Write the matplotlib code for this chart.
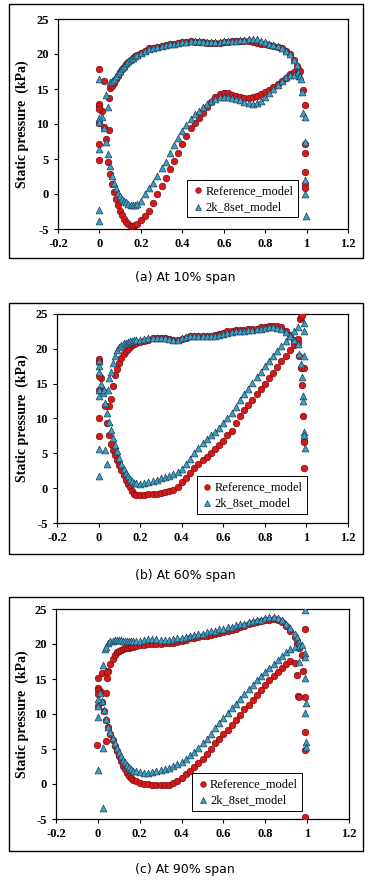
import numpy as np
import matplotlib.pyplot as plt
from matplotlib.patches import Rectangle

plt.rcParams['axes.unicode_minus'] = False

# chordwise stations used for the surface data (x/c)
x_upper = [0.05, 0.06, 0.07, 0.08, 0.09, 0.10, 0.11, 0.12, 0.13, 0.14, 0.15, 0.16, 0.17, 0.18,
           0.20, 0.22, 0.24, 0.26, 0.28, 0.30, 0.32, 0.34, 0.36, 0.38, 0.40, 0.42, 0.44, 0.46,
           0.48, 0.50, 0.52, 0.54, 0.56, 0.58, 0.60, 0.62, 0.64, 0.66, 0.68, 0.70, 0.72, 0.74,
           0.76, 0.78, 0.80, 0.82, 0.84, 0.86, 0.88, 0.90, 0.92, 0.94]
x_lower = [0.01, 0.02, 0.03, 0.04] + x_upper

# ---- (a) 10% span ----
ref_up_a = [15.2, 15.5, 15.9, 16.4, 16.9, 17.4, 17.8, 18.2, 18.6, 18.9, 19.2, 19.5, 19.7, 19.9,
            20.2, 20.5, 20.8, 20.9, 21.0, 21.1, 21.3, 21.4, 21.5, 21.6, 21.7, 21.7, 21.8, 21.7,
            21.7, 21.7, 21.6, 21.6, 21.6, 21.6, 21.7, 21.7, 21.8, 21.8, 21.8, 21.8, 21.8, 21.7,
            21.6, 21.5, 21.4, 21.3, 21.2, 21.0, 20.8, 20.5, 20.0, 19.2]
ref_lo_a = [11.8, 9.6, 7.8, 4.6, 2.9, 1.5, 0.3, -0.7, -1.6, -2.4, -3.0, -3.5, -4.0, -4.3,
            -4.5, -4.5, -4.4, -4.3, -3.7, -3.2, -2.4, -1.3, 0.0, 1.1, 2.3, 3.6, 4.7, 5.9,
            7.1, 8.3, 9.4, 10.2, 10.9, 11.6, 12.4, 13.1, 13.8, 14.3, 14.5, 14.4, 14.2, 14.0,
            13.8, 13.7, 13.7, 13.8, 14.0, 14.3, 14.6, 14.9, 15.3, 15.7, 16.1, 16.6, 17.1, 17.5]
ref_ex_x_a = [0.0, 0.02, 0.045, 0.045, 0.0, 0.0, 0.0, 0.0, 0.0, -0.003,
              0.955, 0.96, 0.965, 0.97, 0.985, 0.99, 0.99, 0.99, 0.993, 0.993, 0.993]
ref_ex_y_a = [17.9, 16.1, 13.7, 9.1, 12.9, 12.6, 12.2, 10.1, 7.1, 4.9,
              18.3, 17.9, 17.5, 17.6, 14.8, 12.7, 7.2, 5.8, 3.1, 1.4, 0.9]

k2_up_a = [16.0, 16.2, 16.5, 16.9, 17.3, 17.6, 18.0, 18.3, 18.7, 19.0, 19.3, 19.5, 19.7, 19.9,
           20.2, 20.5, 20.7, 20.8, 21.0, 21.1, 21.3, 21.4, 21.5, 21.6, 21.7, 21.7, 21.9, 21.8,
           21.8, 21.7, 21.7, 21.7, 21.7, 21.7, 21.8, 21.8, 21.9, 21.9, 22.0, 22.0, 22.1, 22.2,
           22.1, 21.9, 21.7, 21.5, 21.3, 21.1, 20.8, 20.5, 20.0, 19.2]
k2_lo_a = [11.0, 9.5, 7.5, 5.7, 4.0, 2.6, 1.6, 0.8, 0.2, -0.3, -0.7, -1.0, -1.2, -1.4,
           -1.5, -1.5, -1.5, -1.4, -1.0, 0.0, 0.8, 1.6, 2.6, 3.7, 4.6, 5.8, 7.0, 8.0,
           9.0, 9.9, 10.7, 11.4, 11.9, 12.4, 12.9, 13.3, 13.6, 13.8, 13.8, 13.8, 13.7, 13.6,
           13.4, 13.2, 13.0, 12.9, 13.0, 13.3, 13.8, 14.4, 15.0, 15.6, 16.2, 16.7, 17.0, 17.0]
k2_ex_x_a = [0.0, 0.03, 0.04, 0.0, 0.0, 0.0, 0.0, 0.0,
             0.955, 0.96, 0.965, 0.97, 0.975, 0.98, 0.985, 0.99, 0.993, 0.993, 0.993, 0.995]
k2_ex_y_a = [16.4, 14.1, 12.4, 10.8, 10.3, 6.4, -2.3, -3.8,
             18.5, 17.5, 16.9, 16.8, 16.5, 14.6, 11.6, 11.0, 7.4, 2.0, 0.0, -3.2]

# ---- (b) 60% span ----
ref_up_b = [11.8, 12.8, 14.6, 16.2, 17.1, 18.0, 18.7, 19.3, 19.7, 20.0, 20.3, 20.5, 20.7, 20.8,
            21.0, 21.1, 21.3, 21.5, 21.6, 21.6, 21.5, 21.4, 21.2, 21.2, 21.4, 21.6, 21.8, 21.9,
            21.9, 21.9, 21.9, 21.9, 22.0, 22.1, 22.3, 22.5, 22.6, 22.7, 22.7, 22.7, 22.8, 22.8,
            22.9, 23.1, 23.2, 23.3, 23.3, 23.3, 23.1, 22.6, 22.0, 21.3]
ref_lo_b = [15.8, 14.0, 11.8, 9.4, 7.7, 6.3, 5.5, 4.8, 4.1, 3.3, 2.6, 1.9, 1.2, 0.6,
            0.1, -0.4, -0.8, -1.0, -1.0, -1.0, -0.9, -0.9, -0.8, -0.7, -0.6, -0.4, -0.2, 0.2,
            0.9, 1.5, 2.2, 2.9, 3.5, 4.0, 4.5, 5.0, 5.6, 6.2, 6.7, 7.6, 8.2, 9.3,
            10.3, 11.2, 12.0, 12.7, 13.5, 14.3, 15.0, 15.8, 16.6, 17.4, 18.2, 18.9, 19.8, 20.6]
ref_ex_x_b = [0.0, 0.0, 0.0, 0.0, 0.0, 0.0,
              0.96, 0.96, 0.97, 0.975, 0.98, 0.965, 0.975, 0.99, 0.98, 0.985, 0.99, 0.99, 0.99]
ref_ex_y_b = [18.5, 18.1, 16.1, 14.1, 10.1, 7.5,
              20.8, 21.4, 24.3, 24.6, 24.8, 19.0, 17.3, 17.3, 14.8, 10.3, 6.8, 6.6, 2.9]

k2_up_b = [15.8, 16.7, 18.0, 19.0, 19.8, 20.3, 20.6, 20.8, 20.9, 21.0, 21.1, 21.1, 21.2, 21.2,
           21.3, 21.4, 21.5, 21.6, 21.6, 21.6, 21.5, 21.4, 21.3, 21.3, 21.5, 21.7, 21.8, 21.8,
           21.9, 21.9, 21.8, 21.8, 21.9, 22.0, 22.2, 22.3, 22.4, 22.5, 22.6, 22.6, 22.7, 22.7,
           22.8, 22.9, 23.0, 23.1, 23.1, 23.0, 22.8, 22.4, 21.9, 21.3]
k2_lo_b = [15.0, 13.6, 12.2, 10.8, 9.5, 8.3, 7.2, 6.2, 5.3, 4.4, 3.5, 2.8, 2.2, 1.7,
           1.3, 1.0, 0.8, 0.7, 0.6, 0.7, 0.9, 1.0, 1.2, 1.4, 1.6, 1.8, 2.0, 2.3,
           2.7, 3.4, 4.2, 5.0, 5.8, 6.5, 7.1, 7.6, 8.1, 8.7, 9.3, 10.0, 10.8, 11.7,
           12.6, 13.5, 14.3, 15.1, 15.9, 16.7, 17.5, 18.3, 19.0, 19.7, 20.4, 21.1, 21.8, 22.5]
k2_ex_x_b = [0.0, 0.0, 0.0, 0.0, 0.0, 0.0, 0.0, 0.03, 0.04, 0.028, 0.044,
             0.96, 0.96, 0.99, 0.99, 0.965, 0.99, 0.975, 0.98, 0.985, 0.985, 0.99, 0.99, 0.995]
k2_ex_y_b = [18.2, 17.5, 16.7, 14.1, 13.2, 5.6, 1.7, 5.5, 3.4, 14.1, 14.1,
             20.7, 23.1, 23.7, 22.5, 19.2, 18.9, 17.8, 16.0, 13.2, 12.5, 8.1, 7.6, 5.8]

# ---- (c) 90% span ----
ref_up_c = [16.2, 17.2, 17.9, 18.4, 18.8, 19.0, 19.2, 19.3, 19.4, 19.5, 19.5, 19.6, 19.6, 19.7,
            19.8, 19.9, 20.0, 20.0, 20.0, 20.0, 20.1, 20.1, 20.2, 20.3, 20.4, 20.6, 20.8, 20.9,
            21.0, 21.1, 21.2, 21.3, 21.5, 21.6, 21.7, 21.9, 22.0, 22.2, 22.4, 22.6, 22.8, 23.0,
            23.1, 23.3, 23.4, 23.5, 23.6, 23.4, 23.1, 22.6, 21.9, 21.0]
ref_lo_c = [13.3, 11.7, 10.4, 9.2, 8.1, 7.2, 6.3, 5.4, 4.7, 4.0, 3.3, 2.6, 2.1, 1.6,
            1.2, 0.9, 0.6, 0.4, 0.1, 0.0, 0.0, -0.1, -0.1, -0.1, -0.1, -0.1, 0.1, 0.4,
            0.9, 1.4, 1.9, 2.5, 3.0, 3.6, 4.3, 5.0, 5.8, 6.5, 7.1, 7.7, 8.4, 9.2,
            9.9, 10.7, 11.3, 12.0, 12.7, 13.4, 14.1, 14.8, 15.4, 16.0, 16.6, 17.2, 17.6, 17.3]
ref_ex_x_c = [0.0, 0.0, 0.0, 0.0, 0.0, -0.005, 0.02, 0.045, 0.045, 0.04, 0.04,
              0.95, 0.96, 0.95, 0.955, 0.96, 0.975, 0.98, 0.988, 0.988, 0.99, 0.99, 0.99]
ref_ex_y_c = [15.1, 13.7, 13.4, 12.8, 11.2, 5.6, 15.9, 16.0, 15.1, 13.0, 6.1,
              20.2, 19.4, 15.6, 12.6, 12.4, 18.4, 16.1, 22.2, 12.4, 7.4, 4.9, -4.7]

k2_up_c = [20.1, 20.4, 20.5, 20.6, 20.6, 20.6, 20.6, 20.5, 20.5, 20.4, 20.4, 20.4, 20.5, 20.5,
           20.5, 20.6, 20.7, 20.7, 20.7, 20.6, 20.6, 20.6, 20.7, 20.8, 20.9, 21.0, 21.2, 21.3,
           21.4, 21.5, 21.7, 21.8, 21.9, 22.1, 22.2, 22.4, 22.5, 22.7, 22.8, 22.9, 23.1, 23.3,
           23.4, 23.5, 23.7, 23.8, 23.9, 23.7, 23.4, 22.9, 22.3, 21.5]
k2_lo_c = [13.0, 11.8, 10.6, 9.3, 8.2, 7.4, 6.6, 5.9, 5.2, 4.6, 4.0, 3.5, 3.1, 2.7,
           2.4, 2.1, 1.9, 1.8, 1.7, 1.6, 1.6, 1.7, 1.9, 2.0, 2.2, 2.3, 2.6, 2.9,
           3.2, 3.6, 4.1, 4.6, 5.2, 5.9, 6.5, 7.2, 8.0, 8.7, 9.4, 10.1, 10.8, 11.5,
           12.2, 12.9, 13.6, 14.2, 14.8, 15.4, 16.0, 16.6, 17.2, 17.7, 18.3, 18.8, 19.3, 19.6]
k2_ex_x_c = [0.0, 0.0, 0.0, 0.0, 0.025, 0.025, 0.025, 0.035, 0.04,
             0.95, 0.96, 0.96, 0.96, 0.975, 0.99, 0.99, 0.99, 0.99, 0.995, 0.99, 0.995, 0.995]
k2_ex_y_c = [12.2, 11.1, 9.6, 2.0, 17.0, 5.2, -3.4, 19.3, 19.6,
             21.0, 20.3, 19.7, 17.4, 19.9, 24.8, 18.7, 18.2, 15.2, 11.6, 10.1, 6.0, 5.3]

captions = ['(a) At 10% span', '(b) At 60% span', '(c) At 90% span']
xtick_vals = [-0.2, 0, 0.2, 0.4, 0.6, 0.8, 1, 1.2]
xtick_labels = ['-0.2', '0', '0.2', '0.4', '0.6', '0.8', '1', '1.2']
ytick_vals = [-5, 0, 5, 10, 15, 20, 25]

panels = [
    (ref_up_a, ref_lo_a, ref_ex_x_a, ref_ex_y_a, k2_up_a, k2_lo_a, k2_ex_x_a, k2_ex_y_a),
    (ref_up_b, ref_lo_b, ref_ex_x_b, ref_ex_y_b, k2_up_b, k2_lo_b, k2_ex_x_b, k2_ex_y_b),
    (ref_up_c, ref_lo_c, ref_ex_x_c, ref_ex_y_c, k2_up_c, k2_lo_c, k2_ex_x_c, k2_ex_y_c),
]

# layout in figure pixels (373 x 881)
W, H = 373, 881
axes_px = [(58, 19, 348, 229), (57, 314, 348, 523), (56, 609, 349, 819)]
frames_px = [(9, 4, 363, 258), (9, 303, 363, 554), (9, 597, 363, 851)]
caption_y = [277, 575, 869]
legend_anchor = [(0.445, 0.055), (0.48, 0.045), (0.464, 0.04)]

serif = 'Liberation Serif'
red_face, red_edge = '#d7191c', '#7a0a0a'
blue_face, blue_edge = '#3d9fc6', '#1d3f57'

fig = plt.figure(figsize=(W / 100, H / 100), dpi=100)

for i, p in enumerate(panels):
    r_up, r_lo, r_ex_x, r_ex_y, k_up, k_lo, k_ex_x, k_ex_y = p
    l, t, r, b = axes_px[i]
    ax = fig.add_axes([l / W, 1 - b / H, (r - l) / W, (b - t) / H])

    rx = np.concatenate([x_upper, x_lower, r_ex_x])
    ry = np.concatenate([r_up, r_lo, r_ex_y])
    kx = np.concatenate([x_upper, x_lower, k_ex_x])
    ky = np.concatenate([k_up, k_lo, k_ex_y])

    ax.scatter(rx, ry, s=22, marker='o', facecolor=red_face, edgecolor=red_edge,
               linewidth=0.5, label='Reference_model', zorder=3)
    ax.scatter(kx, ky, s=24, marker='^', facecolor=blue_face, edgecolor=blue_edge,
               linewidth=0.5, label='2k_8set_model', zorder=4)

    ax.set_xlim(-0.2, 1.2)
    ax.set_ylim(-5, 25)
    ax.set_xticks(xtick_vals)
    ax.set_xticklabels(xtick_labels)
    ax.set_yticks(ytick_vals)
    for lab in ax.get_xticklabels() + ax.get_yticklabels():
        lab.set_fontfamily(serif)
        lab.set_fontweight('bold')
        lab.set_fontsize(9)
    ax.tick_params(direction='out', length=3, width=0.8, pad=3.5)
    for sp in ax.spines.values():
        sp.set_linewidth(0.9)

    leg = ax.legend(loc='lower left', bbox_to_anchor=legend_anchor[i], fancybox=False,
                    edgecolor='black', framealpha=1, borderpad=0.35, handletextpad=0.1,
                    handlelength=1.0, labelspacing=0.35, borderaxespad=0, markerscale=0.85,
                    prop={'family': serif, 'size': 9})
    leg.get_frame().set_linewidth(0.7)

    # y label centred on the axes
    fig.text(22 / W, 1 - (t + b) / 2 / H, 'Static pressure  (kPa)', rotation=90,
             ha='center', va='center', family=serif, fontweight='bold', fontsize=10)

    # outer frame of the panel
    fl, ft, fr, fb = frames_px[i]
    fig.patches.append(Rectangle((fl / W, 1 - fb / H), (fr - fl) / W, (fb - ft) / H,
                                 transform=fig.transFigure, fill=False,
                                 edgecolor='black', linewidth=1.0))

    fig.text(185 / W, 1 - caption_y[i] / H, captions[i], ha='center', va='center',
             family='DejaVu Sans', fontsize=9)

fig.savefig('out.png', dpi=100)
